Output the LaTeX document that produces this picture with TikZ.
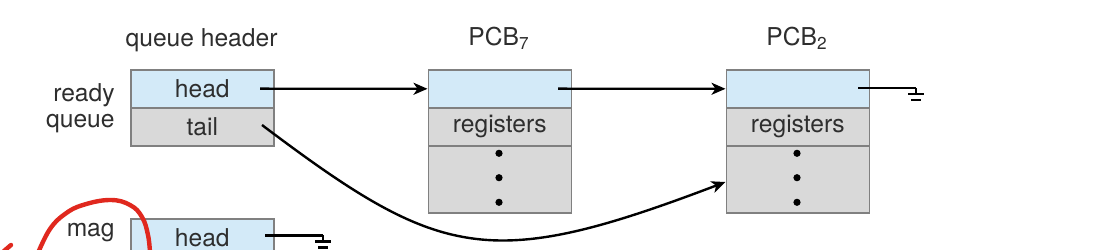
\documentclass[tikz,border=0pt]{standalone}
\usepackage{fontspec}
\setmainfont{TeX Gyre Heros}
\usetikzlibrary{arrows.meta}
\definecolor{txt}{HTML}{2E2E2E}
\definecolor{ptrblue}{HTML}{D3EAF8}
\definecolor{fldgray}{HTML}{D9D9D9}
\definecolor{bordergray}{HTML}{808080}
\definecolor{inkred}{HTML}{E0281E}
\begin{document}
\begin{tikzpicture}[x=0.5pt,y=-0.5pt,
  every node/.style={font=\fontsize{12.3}{14}\selectfont, text=txt},
  field/.style={draw=bordergray, line width=0.8pt, minimum width=71.5pt, inner sep=0pt, anchor=north west},
  ptrfield/.style={field, fill=ptrblue, minimum height=19pt},
  regfield/.style={field, fill=fldgray, minimum height=19pt},
  dotsfield/.style={field, fill=fldgray, minimum height=33.5pt},
  lbl/.style={inner sep=0pt},
  link/.style={line width=1.2pt, draw=black, -{Stealth[length=7pt,width=6pt,inset=2pt]}},
  nil/.style={line width=1.2pt, draw=black},
  ground/.pic={\draw[line width=1.3pt] (0,0) -- (0,6) (-8,6) -- (8,6) (-5,12) -- (5,12);},
  dot/.style={fill=black},
  annot/.style={draw=inkred, line width=2.2pt, line cap=round}
]
\useasboundingbox[fill=white] (0,0) rectangle (1110,250);

% labels
\node[lbl, anchor=base] (qhl) at (201.5,46.5) {queue header};
\node[lbl, anchor=base] (p7l) at (499,46) {PCB\textsubscript{7}};
\node[lbl, anchor=base] (p2l) at (797,46) {PCB\textsubscript{2}};
\node[lbl, anchor=base east] (rq1) at (115,101.7) {ready};
\node[lbl, anchor=base east] (rq2) at (115,128) {queue};
\node[lbl, anchor=base east] (mg1) at (115,236.7) {mag};

% queue header
\node[ptrfield] (qhhead) at (130,69) {head};
\node[regfield] (qhtail) at (130,107) {tail};

% PCB7
\node[ptrfield] (p7top) at (427.5,69) {};
\node[regfield] (p7reg) at (427.5,107) {registers};
\node[dotsfield] (p7dots) at (427.5,145) {};

% PCB2
\node[ptrfield] (p2top) at (725.5,69) {};
\node[regfield] (p2reg) at (725.5,107) {registers};
\node[dotsfield] (p2dots) at (725.5,145) {};

% mag tape queue header
\node[ptrfield] (mhead) at (130,218) {head};

% dots
\foreach \cx/\nm in {499/p7, 797/p2}{
  \fill[dot] (\cx,153.3) circle[radius=1.8pt];
  \fill[dot] (\cx,177.7) circle[radius=1.8pt];
  \fill[dot] (\cx,202.3) circle[radius=1.8pt];
}

% pointer origins
\coordinate (qhp) at (260,88.7);
\coordinate (qtp) at (262,125);
\coordinate (p7p) at (558,88.7);
\coordinate (p2p) at (858,88);
\coordinate (p2g) at (916,88);
\coordinate (mp) at (265,235.5);
\coordinate (mg) at (323,235.5);
\coordinate (p2in) at (725.5,182);

% links
\draw[link] (qhp) -- (p7top.west);
\draw[link] (p7p) -- (p2top.west);
\draw[link] (qtp) .. controls (441,260) and (489,272) .. (p2in);
\draw[nil] (p2p) -- (p2g);
\pic at (p2g) {ground};
\draw[nil] (mp) -- (mg);
\pic at (mg) {ground};

% red annotation
\draw[annot] plot[smooth, tension=0.7] coordinates {(38,253) (50,229) (65,214) (83,205) (110,200) (130,205) (142,217) (148,235) (150,253)};
\draw[annot] (4,251) -- (11,245);
\end{tikzpicture}
\end{document}
